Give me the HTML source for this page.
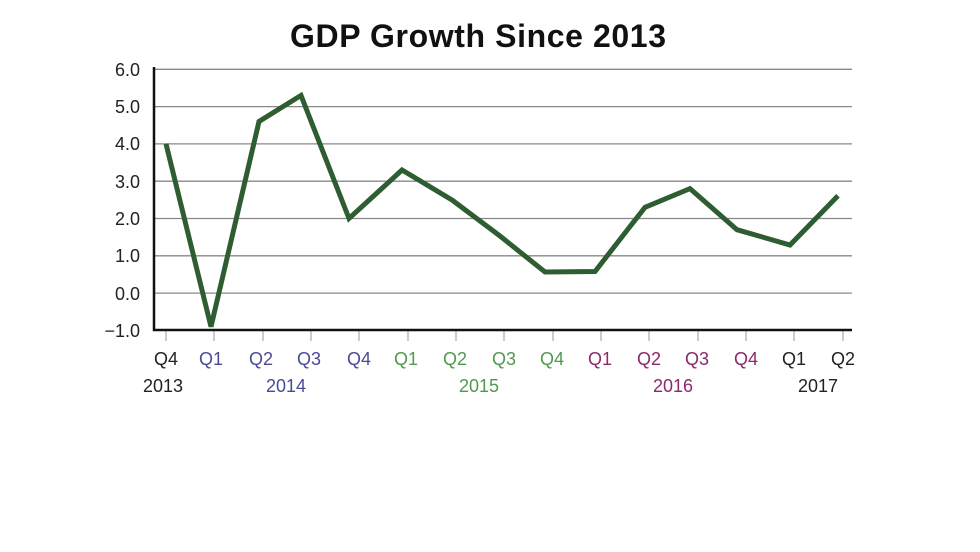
<!DOCTYPE html>
<html><head><meta charset="utf-8"><style>
html,body{margin:0;padding:0;background:#fff;width:980px;height:552px;overflow:hidden}
</style></head><body>
<svg width="980" height="552" xmlns="http://www.w3.org/2000/svg" font-family="Liberation Sans, sans-serif">
<text x="478" y="47" text-anchor="middle" font-size="32" font-weight="bold" fill="#111" textLength="376">GDP Growth Since 2013</text>
<g stroke="#888" stroke-width="1.3">
<line x1="154" x2="852" y1="69.3" y2="69.3"/>
<line x1="154" x2="852" y1="106.6" y2="106.6"/>
<line x1="154" x2="852" y1="143.9" y2="143.9"/>
<line x1="154" x2="852" y1="181.2" y2="181.2"/>
<line x1="154" x2="852" y1="218.5" y2="218.5"/>
<line x1="154" x2="852" y1="255.8" y2="255.8"/>
<line x1="154" x2="852" y1="293.1" y2="293.1"/>
</g>
<g stroke="#999" stroke-width="1">
<line x1="166" x2="166" y1="331" y2="341"/><line x1="214" x2="214" y1="331" y2="341"/><line x1="263" x2="263" y1="331" y2="341"/><line x1="311" x2="311" y1="331" y2="341"/><line x1="359" x2="359" y1="331" y2="341"/><line x1="408" x2="408" y1="331" y2="341"/><line x1="456" x2="456" y1="331" y2="341"/><line x1="504" x2="504" y1="331" y2="341"/><line x1="553" x2="553" y1="331" y2="341"/><line x1="601" x2="601" y1="331" y2="341"/><line x1="649" x2="649" y1="331" y2="341"/><line x1="698" x2="698" y1="331" y2="341"/><line x1="746" x2="746" y1="331" y2="341"/><line x1="794" x2="794" y1="331" y2="341"/><line x1="843" x2="843" y1="331" y2="341"/>
</g>
<path d="M154 67 V330 H852" fill="none" stroke="#111" stroke-width="2.5"/>
<g font-size="18" fill="#222" text-anchor="end">
<text x="140" y="76">6.0</text><text x="140" y="113">5.0</text><text x="140" y="150">4.0</text><text x="140" y="188">3.0</text><text x="140" y="225">2.0</text><text x="140" y="262">1.0</text><text x="140" y="300">0.0</text><text x="140" y="337">−1.0</text>
</g>
<polyline fill="none" stroke="#2f5d32" stroke-width="5" stroke-linejoin="miter" points="166,143.9 211,326.7 259,121.5 301,95.4 349,218.5 402,170 452,200 500,236 545,272 595,271.5 645,207.3 690,188.6 737,229.7 790,245 838,195.8"/>
<g font-size="18" text-anchor="middle">
<text x="166" y="365" fill="#222">Q4</text>
<text x="211" y="365" fill="#4a4a9a">Q1</text><text x="261" y="365" fill="#4a4a9a">Q2</text><text x="309" y="365" fill="#4a4a9a">Q3</text><text x="359" y="365" fill="#4a4a9a">Q4</text>
<text x="406" y="365" fill="#4f9a4f">Q1</text><text x="455" y="365" fill="#4f9a4f">Q2</text><text x="504" y="365" fill="#4f9a4f">Q3</text><text x="552" y="365" fill="#4f9a4f">Q4</text>
<text x="600" y="365" fill="#8a2a6a">Q1</text><text x="649" y="365" fill="#8a2a6a">Q2</text><text x="697" y="365" fill="#8a2a6a">Q3</text><text x="746" y="365" fill="#8a2a6a">Q4</text>
<text x="794" y="365" fill="#222">Q1</text><text x="843" y="365" fill="#222">Q2</text>
<text x="163" y="392" fill="#222">2013</text>
<text x="286" y="392" fill="#4a4a9a">2014</text>
<text x="479" y="392" fill="#4f9a4f">2015</text>
<text x="673" y="392" fill="#8a2a6a">2016</text>
<text x="818" y="392" fill="#222">2017</text>
</g>
</svg>
</body></html>
